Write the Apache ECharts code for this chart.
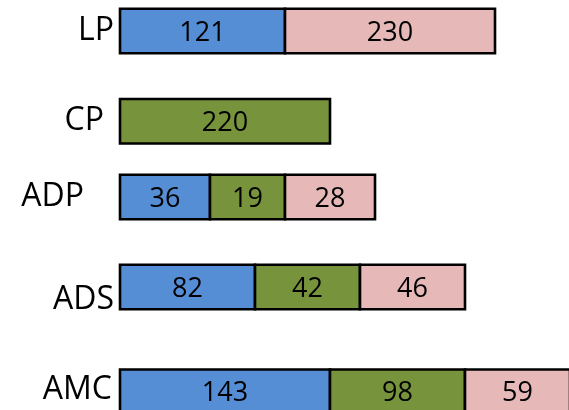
<!DOCTYPE html>
<html><head><meta charset="utf-8">
<script src="https://cdn.jsdelivr.net/npm/echarts@6/dist/echarts.min.js"></script>
<style>html,body{margin:0;padding:0;background:#fff}#c{width:569px;height:410px}</style>
</head><body><div id="c"></div>
<script>
// ---- data ----
const categories = ['LP', 'CP', 'ADP', 'ADS', 'AMC'];
// drawn segment lengths (box units) and the numbers printed in them
const blueLen  = [11, 0, 6, 9, 14];
const greenLen = [0, 14, 5, 7, 9];
const pinkLen  = [14, 0, 6, 7, 7];
const blueVal  = [121, null, 36, 82, 143];
const greenVal = [null, 220, 19, 42, 98];
const pinkVal  = [230, null, 28, 46, 59];

// ---- layout / style ----
const rowTop = [8.7, 99, 174.7, 264.7, 369.5];
const rowH = 44.5;
const labelMargin = [6, 16, 36, 6, 8];
const labelShift = [0, 0, 0, 13, -2];
const FONT = 'Open Sans';
const segs = [
  {len: blueLen, val: blueVal, color: '#558ED5'},
  {len: greenLen, val: greenVal, color: '#77933C'},
  {len: pinkLen, val: pinkVal, color: '#E6B9B8'}
];

function renderSeg(params, api) {
  const a = api.coord([api.value(0), 0]);
  const b = api.coord([api.value(1), 0]);
  const h = api.size([0, 1])[1];
  const color = segs[api.value(2)].color;
  const label = api.value(3);
  return {
    type: 'rect',
    shape: {x: a[0], y: a[1] - h / 2, width: b[0] - a[0], height: h},
    style: {fill: color, stroke: '#000', lineWidth: 2.6},
    textContent: {style: {text: String(label), fontFamily: FONT, fontSize: 27, fill: '#000'}},
    textConfig: {position: 'inside', offset: [0, 2]}
  };
}

const grid = [], xAxis = [], yAxis = [], series = [];
categories.forEach((cat, i) => {
  grid.push({left: 120, width: 450, top: rowTop[i], height: rowH,
    containLabel: false, outerBoundsMode: 'none'});
  xAxis.push({type: 'value', gridIndex: i, min: 0, max: 30, show: false});
  const s = labelShift[i];
  const labelCfg = {margin: labelMargin[i], fontFamily: FONT, fontSize: 32, color: '#000'};
  if (s !== 0) {
    labelCfg.verticalAlign = s > 0 ? 'top' : 'bottom';
    labelCfg.lineHeight = 2 * Math.abs(s);
  }
  yAxis.push({
    type: 'category', gridIndex: i, data: [cat],
    axisLine: {show: false}, axisTick: {show: false}, splitLine: {show: false},
    axisLabel: labelCfg
  });
  const data = [];
  let start = 0;
  segs.forEach((sg, k) => {
    if (!sg.len[i]) return;
    data.push([start, start + sg.len[i], k, sg.val[i]]);
    start += sg.len[i];
  });
  series.push({
    type: 'custom', xAxisIndex: i, yAxisIndex: i, renderItem: renderSeg,
    data: data, silent: true, animation: false, clip: false,
    encode: {x: [0, 1], y: -1}
  });
});

const chart = echarts.init(document.getElementById('c'), null, {renderer: 'canvas'});
chart.setOption({animation: false, grid, xAxis, yAxis, series});
</script>
</body></html>
